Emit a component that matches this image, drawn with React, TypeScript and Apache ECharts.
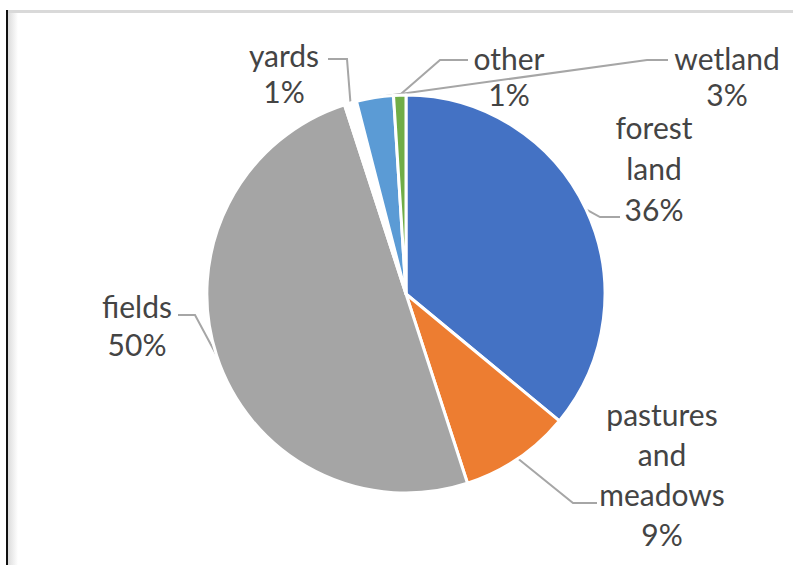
import React, { useEffect, useRef } from "react";
import * as echarts from "echarts";

const categories = ["forest land", "pastures and meadows", "fields", "yards", "wetland", "other"];
const values = [36, 9, 50, 1, 3, 1];
const colors = ["#4472c4", "#ed7d31", "#a5a5a5", "#ffffff", "#5b9bd5", "#70ad47"];

// label placement (layout only): block centre, line height, guide-line elbow & end
const labelLayoutSpec: Record<string, { cx: number; cy: number; lh: number; elbow: number[]; end: number[] }> = {
  "forest land": { cx: 654, cy: 168, lh: 41, elbow: [600, 217], end: [620, 217] },
  "pastures and meadows": { cx: 662, cy: 474, lh: 40, elbow: [573, 503], end: [597, 503] },
  fields: { cx: 137, cy: 325, lh: 38, elbow: [195, 315], end: [178, 315] },
  yards: { cx: 284, cy: 73, lh: 36, elbow: [347, 59], end: [328, 59] },
  wetland: { cx: 727, cy: 76, lh: 36, elbow: [647, 60], end: [668, 60] },
  other: { cx: 509, cy: 76, lh: 36, elbow: [440, 60], end: [468, 60] },
};

const labelTextFor: Record<string, string> = {
  "forest land": "forest\nland",
  "pastures and meadows": "pastures\nand\nmeadows",
  fields: "fields",
  yards: "yards",
  wetland: "wetland",
  other: "other",
};

export default function App() {
  const ref = useRef<HTMLDivElement>(null);
  useEffect(() => {
    if (!ref.current) return;
    const chart = echarts.init(ref.current, null, { renderer: "svg" });
    const data = categories.map((name, i) => ({
      name,
      value: values[i],
      itemStyle: { color: colors[i] },
      label: { lineHeight: labelLayoutSpec[name].lh },
    }));
    chart.setOption({
      animation: false,
      backgroundColor: "#ffffff",
      graphic: [
        { type: "rect", shape: { x: 6, y: 10, width: 787, height: 3 }, style: { fill: "#d9d9d9" } },
        {
          type: "rect",
          shape: { x: 8, y: 13, width: 10, height: 552 },
          style: {
            fill: new echarts.graphic.LinearGradient(0, 0, 1, 0, [
              { offset: 0, color: "#dcdcdc" },
              { offset: 1, color: "#ffffff" },
            ]),
          },
        },
        { type: "rect", shape: { x: 6, y: 10, width: 2, height: 555 }, style: { fill: "#111111" } },
      ],
      series: [
        {
          type: "pie",
          center: [406, 294],
          radius: [0, 199],
          startAngle: 90,
          clockwise: true,
          avoidLabelOverlap: false,
          data,
          itemStyle: { borderColor: "#ffffff", borderWidth: 3 },
          label: {
            show: true,
            position: "outside",
            formatter: (p: any) => `${labelTextFor[p.name]}\n${p.value}%`,
            fontFamily: "Lato",
            fontSize: 30,
            color: "#444444",
            align: "center",
          },
          labelLine: {
            show: true,
            lineStyle: { color: "#a6a6a6", width: 2 },
          },
          labelLayout: (params: any) => {
            const name = categories[params.dataIndex];
            const s = labelLayoutSpec[name];
            const edge = params.labelLinePoints ? params.labelLinePoints[0] : s.elbow;
            return {
              x: s.cx,
              y: s.cy,
              align: "center",
              verticalAlign: "middle",
              labelLinePoints: [edge, s.elbow, s.end],
            };
          },
          emphasis: { disabled: true },
        },
      ],
    });
    return () => chart.dispose();
  }, []);
  return (
    <div
      ref={ref}
      style={{ position: "fixed", left: 0, top: 0, width: 793, height: 565, background: "#ffffff" }}
    />
  );
}
